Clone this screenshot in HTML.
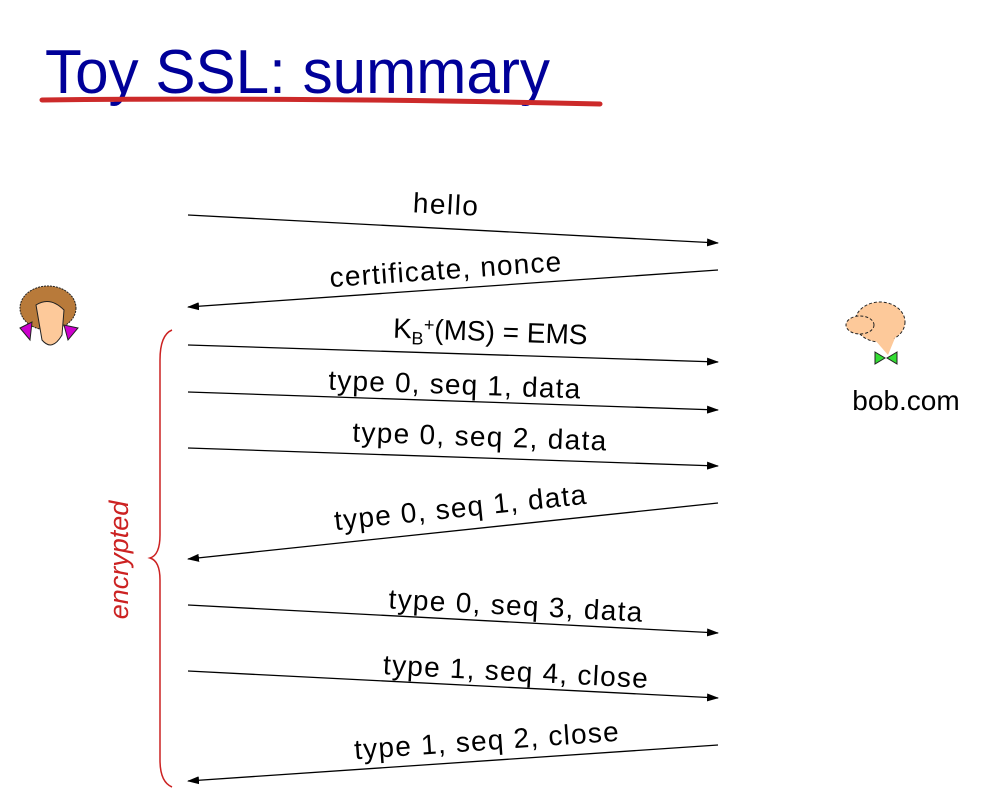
<!DOCTYPE html>
<html><head><meta charset="utf-8"><style>
html,body{margin:0;padding:0;background:#fff;}
svg{display:block;font-family:"Liberation Sans",sans-serif;}
</style></head><body>
<svg width="986" height="792" viewBox="0 0 986 792" xmlns="http://www.w3.org/2000/svg">
<defs><marker id="a" markerWidth="12" markerHeight="8" refX="11" refY="4" orient="auto" markerUnits="userSpaceOnUse"><path d="M0,0 L12,4 L0,8 z" fill="#000"/></marker></defs>
<text x="45" y="93" font-size="62" fill="#000099" textLength="505" lengthAdjust="spacingAndGlyphs">Toy SSL: summary</text>
<path d="M42,100 Q300,97 600,104" stroke="#cc2a2a" stroke-width="5" fill="none" stroke-linecap="round"/>
<g stroke="#000" stroke-width="1.3" marker-end="url(#a)">
<line x1="188" y1="215" x2="718" y2="243"/>
<line x1="718" y1="270" x2="188" y2="307"/>
<line x1="188" y1="345" x2="718" y2="362"/>
<line x1="188" y1="392" x2="718" y2="410"/>
<line x1="188" y1="448" x2="718" y2="466"/>
<line x1="718" y1="503" x2="188" y2="559"/>
<line x1="188" y1="605" x2="718" y2="633"/>
<line x1="188" y1="671" x2="718" y2="698"/>
<line x1="718" y1="745" x2="188" y2="781"/>
</g>
<g font-size="28" fill="#000" text-anchor="middle" lengthAdjust="spacingAndGlyphs">
<text transform="translate(445,214) rotate(3)" textLength="65">hello</text>
<text transform="translate(446,279) rotate(-4)" textLength="232">certificate, nonce</text>
<text transform="translate(490,341) rotate(2)">K<tspan font-size="18" dy="6">B</tspan><tspan font-size="18" dy="-14">+</tspan><tspan dy="8">(MS) = EMS</tspan></text>
<text transform="translate(454,394) rotate(2)" textLength="252">type 0, seq 1, data</text>
<text transform="translate(479,446) rotate(2)" textLength="254">type 0, seq 2, data</text>
<text transform="translate(461,517) rotate(-6)" textLength="253">type 0, seq 1, data</text>
<text transform="translate(515,615) rotate(3)" textLength="254">type 0, seq 3, data</text>
<text transform="translate(515,681) rotate(3)" textLength="265">type 1, seq 4, close</text>
<text transform="translate(487,750) rotate(-4)" textLength="265">type 1, seq 2, close</text>
</g>
<text x="906" y="410" font-size="28" text-anchor="middle">bob.com</text>
<path d="M172,330 Q160,335 160,360 L160,535 Q160,555 150,558 Q160,561 160,580 L160,760 Q160,782 172,787" stroke="#cc2222" stroke-width="1.5" fill="none"/>
<text transform="translate(128,560) rotate(-90)" font-size="27" font-style="italic" fill="#cc2222" text-anchor="middle">encrypted</text>
<!-- alice -->
<g>
<ellipse cx="48" cy="308" rx="28" ry="22" fill="#b87a3a" stroke="#222" stroke-dasharray="2,1"/>
<path d="M36,305 Q50,296 64,310 L62,335 Q52,352 42,340 Z" fill="#fdc99a" stroke="#222"/>
<path d="M20,328 L32,322 L30,340 Z M78,328 L64,325 L68,340 Z" fill="#cc00cc" stroke="#222"/>
</g>
<!-- bob -->
<g>
<ellipse cx="880" cy="322" rx="25" ry="20" fill="#fdc99a" stroke="#222" stroke-dasharray="3,2"/>
<ellipse cx="860" cy="325" rx="14" ry="9" fill="#fdc99a" stroke="#222" stroke-dasharray="3,2"/>
<path d="M875,340 L888,355 L895,338" fill="#fdc99a"/>
<path d="M875,352 L885,358 L875,364 Z M897,352 L887,358 L897,364 Z" fill="#33dd33" stroke="#222"/>
</g>
</svg>
</body></html>
